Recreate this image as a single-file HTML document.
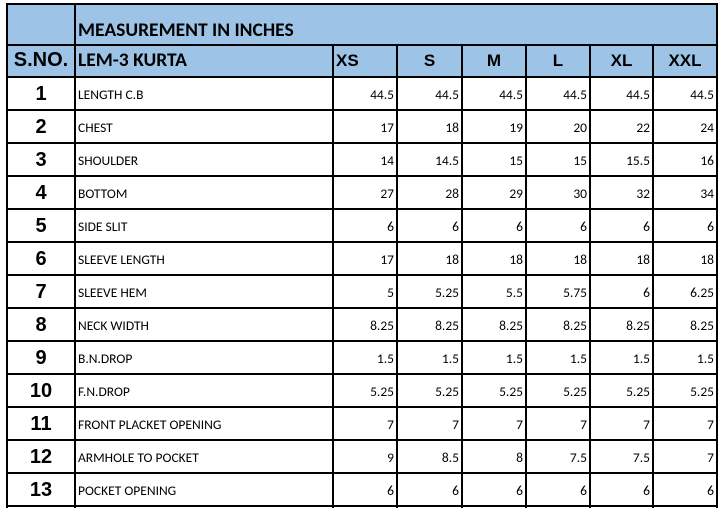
<!DOCTYPE html>
<html><head><meta charset="utf-8"><style>
body{margin:0;width:724px;height:509px;background:#fff;overflow:hidden;position:relative;font-family:Calibri,"Carlito","Liberation Sans",sans-serif;}
.b{position:absolute;background:#000;}
.c{position:absolute;height:33px;line-height:33px;white-space:nowrap;font-size:13.5px;}
.sn{width:68px;left:7px;text-align:center;font-family:"Liberation Sans",Arial,sans-serif;font-weight:bold;font-size:20px;}
.nm{left:78px;}
.v{text-align:right;}
.sz{font-family:"Liberation Sans",Arial,sans-serif;font-weight:bold;font-size:17px;text-align:center;}
</style></head><body>
<div style="position:absolute;left:7px;top:4px;width:710px;height:73px;background:#9dc3e6"></div>
<div class="c" style="left:78px;top:14px;font-size:19.5px;font-weight:bold">MEASUREMENT IN INCHES</div>
<div class="c sn" style="top:44px">S.NO.</div>
<div class="c" style="left:78px;top:44px;font-size:19.5px;font-weight:bold">LEM-3 KURTA</div>
<div class="c sz" style="left:336px;top:44px">XS</div>
<div class="c sz" style="left:397px;width:65px;top:44px">S</div>
<div class="c sz" style="left:462px;width:64px;top:44px">M</div>
<div class="c sz" style="left:526px;width:64px;top:44px">L</div>
<div class="c sz" style="left:590px;width:63px;top:44px">XL</div>
<div class="c sz" style="left:653px;width:64px;top:44px">XXL</div>
<div id="g"></div>
<script>
var rows=[["LENGTH C.B","44.5","44.5","44.5","44.5","44.5","44.5"],["CHEST",17,18,19,20,22,24],["SHOULDER",14,14.5,15,15,15.5,16],["BOTTOM",27,28,29,30,32,34],["SIDE SLIT",6,6,6,6,6,6],["SLEEVE LENGTH",17,18,18,18,18,18],["SLEEVE HEM",5,5.25,5.5,5.75,6,6.25],["NECK WIDTH",8.25,8.25,8.25,8.25,8.25,8.25],["B.N.DROP",1.5,1.5,1.5,1.5,1.5,1.5],["F.N.DROP",5.25,5.25,5.25,5.25,5.25,5.25],["FRONT PLACKET OPENING",7,7,7,7,7,7],["ARMHOLE TO POCKET",9,8.5,8,7.5,7.5,7],["POCKET OPENING",6,6,6,6,6,6]];
var xs=[7,75,333,397,462,526,590,653,717],h="";
rows.forEach(function(r,i){var t=77+33*i+1;
h+='<div class="c sn" style="top:'+t+'px">'+(i+1)+'</div><div class="c nm" style="top:'+t+'px">'+r[0]+'</div>';
for(var j=1;j<7;j++){h+='<div class="c v" style="left:'+xs[j+1]+'px;width:'+(xs[j+2]-xs[j+1]-3)+'px;top:'+t+'px">'+r[j]+'</div>';}});
var ys=[4,45,77];for(var k=1;k<=13;k++)ys.push(77+33*k);
ys.forEach(function(y){h+='<div class="b" style="left:7px;width:711px;top:'+(y-1)+'px;height:2px"></div>';});
xs.forEach(function(x,i){var top=(i==0||i==1||i==8)?4:45;h+='<div class="b" style="left:'+(x-1)+'px;width:2px;top:'+(top-1)+'px;height:'+(509-top)+'px"></div>';});
document.getElementById("g").innerHTML=h;
</script>
</body></html>
